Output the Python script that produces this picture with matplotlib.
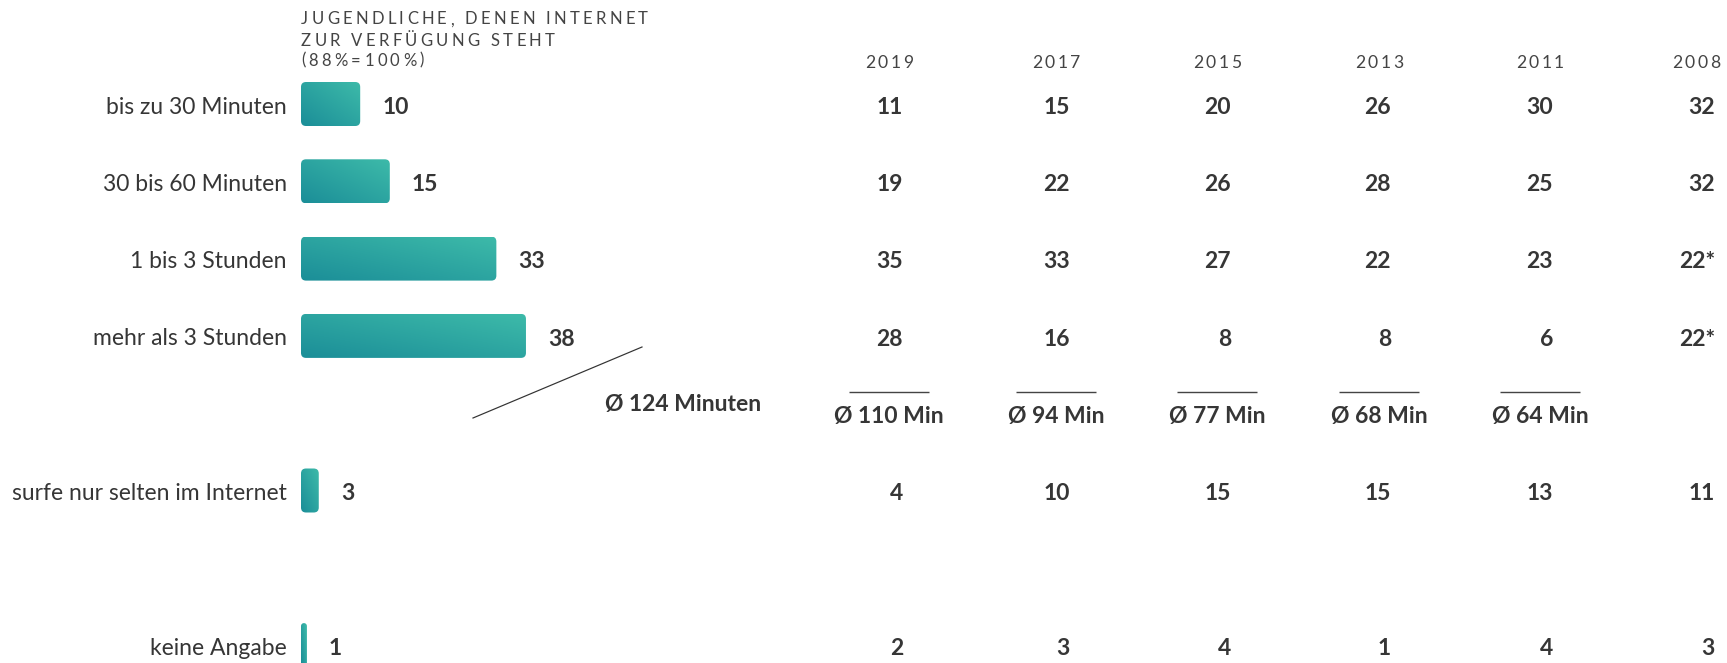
import numpy as np
import matplotlib
matplotlib.use("Agg")
import matplotlib.pyplot as plt
from matplotlib.patches import FancyBboxPatch
from matplotlib.transforms import blended_transform_factory
from matplotlib.colors import to_rgb

# ---------------------------------------------------------------- data
categories = ["bis zu 30 Minuten", "30 bis 60 Minuten", "1 bis 3 Stunden",
              "mehr als 3 Stunden", "surfe nur selten im Internet", "keine Angabe"]
current_share = [10, 15, 33, 38, 3, 1]
current_avg_label = "Ø 124 Minuten"

years = ["2019", "2017", "2015", "2013", "2011", "2008"]
share_2019 = ["11", "19", "35", "28", "4", "2"]
share_2017 = ["15", "22", "33", "16", "10", "3"]
share_2015 = ["20", "26", "27", "8", "15", "4"]
share_2013 = ["26", "28", "22", "8", "15", "1"]
share_2011 = ["30", "25", "23", "6", "13", "4"]
share_2008 = ["32", "32", "22*", "22*", "11", "3"]
avg_minutes = [110, 94, 77, 68, 64, None]

header_lines = ["JUGENDLICHE, DENEN INTERNET", "ZUR VERFÜGUNG STEHT", "(88%=100%)"]

# ---------------------------------------------------------------- layout
W, H, DPI = 1727, 663, 100
ROW_SLOTS = [0, 1, 2, 3, 5, 7]          # vertical slot of each category
ROW0, ROW_STEP = 104.0, 77.3            # px
BAR_LEFT, PX_PER_UNIT = 301.0, 5.92     # px
BAR_H_PX = 44.0
COL_RIGHT = [903, 1070, 1231, 1391, 1553, 1715]
COL_CENTER = [889, 1056, 1217, 1379, 1540, 1696]

TEXT = "#363636"
DARK = np.array(to_rgb("#1b8e98"))
LIGHT = np.array(to_rgb("#3dbaa9"))
FONT = "Lato"
LABEL_SIZE = 16.5
VALUE_SIZE = 16.5

def pt(px):
    return px * 72.0 / DPI

fig = plt.figure(figsize=(W / DPI, H / DPI), dpi=DPI)
fig.patch.set_facecolor("white")

# overlay axis in pixel units for free text
ax_txt = fig.add_axes([0, 0, 1, 1])
ax_txt.set_xlim(0, W)
ax_txt.set_ylim(H, 0)
ax_txt.set_axis_off()

# bar axis: x in percent, y in row slots
xmax = 60.0
y_top, y_bot = -1.0, 8.0
top_px = ROW0 + y_top * ROW_STEP
bot_px = ROW0 + y_bot * ROW_STEP
ax_bar = fig.add_axes([BAR_LEFT / W, 1 - bot_px / H,
                       xmax * PX_PER_UNIT / W, (bot_px - top_px) / H])
ax_bar.set_xlim(0, xmax)
ax_bar.set_ylim(y_bot, y_top)
ax_bar.set_axis_off()

unit_y_per_px = 1.0 / ROW_STEP
unit_x_per_px = 1.0 / PX_PER_UNIT
bar_h = BAR_H_PX * unit_y_per_px
aspect = unit_y_per_px / unit_x_per_px

# gradient bars with rounded corners
for slot, val in zip(ROW_SLOTS, current_share):
    width_px = val * PX_PER_UNIT
    r_px = min(5.0, width_px / 2.0)
    patch = FancyBboxPatch((0, slot - bar_h / 2), val, bar_h,
                           boxstyle=f"round,pad=0,rounding_size={r_px * unit_x_per_px}",
                           mutation_aspect=aspect, transform=ax_bar.transData,
                           linewidth=0, facecolor="none")
    ax_bar.add_patch(patch)
    ncol = max(2, int(width_px))
    nrow = int(BAR_H_PX)
    u = np.linspace(0, 1, ncol)[None, :]
    v = np.linspace(1, 0, nrow)[:, None]     # 1 at top, 0 at bottom
    t = (u + v) / 2.0
    img = DARK[None, None, :] * (1 - t[..., None]) + LIGHT[None, None, :] * t[..., None]
    im = ax_bar.imshow(img, extent=(0, val, slot + bar_h / 2, slot - bar_h / 2),
                       origin="upper", aspect="auto", interpolation="bilinear")
    im.set_clip_path(patch)

ax_bar.set_xlim(0, xmax)
ax_bar.set_ylim(y_bot, y_top)

# category labels and bar values
for slot, cat, val in zip(ROW_SLOTS, categories, current_share):
    ax_bar.annotate(cat, xy=(0, slot), xycoords="data",
                    xytext=(pt(-14), pt(-9.5)), textcoords="offset points",
                    ha="right", va="baseline", fontsize=LABEL_SIZE, family=FONT,
                    color=TEXT, annotation_clip=False)
    ax_bar.annotate(str(val), xy=(val, slot), xycoords="data",
                    xytext=(pt(22), pt(-9.8)), textcoords="offset points",
                    ha="left", va="baseline", fontsize=VALUE_SIZE, family=FONT,
                    fontweight="bold", color=TEXT, annotation_clip=False)

# earlier survey columns
blend = blended_transform_factory(ax_txt.transData, ax_bar.transData)
columns = [share_2019, share_2017, share_2015, share_2013, share_2011, share_2008]
for xr, col in zip(COL_RIGHT, columns):
    for slot, s in zip(ROW_SLOTS, col):
        ax_bar.annotate(s, xy=(xr, slot), xycoords=blend,
                        xytext=(0, pt(-9.8)), textcoords="offset points",
                        ha="right", va="baseline", fontsize=VALUE_SIZE, family=FONT,
                        fontweight="bold", color=TEXT, annotation_clip=False)

# letter-spaced text helper
renderer = fig.canvas.get_renderer()

def text_width(s, **kw):
    t = ax_txt.text(0, 0, s, **kw)
    w = t.get_window_extent(renderer).width
    t.remove()
    return w

def tracked(x, y, s, tracking, ha="left", **kw):
    wh = text_width("H", **kw)
    offs = [text_width(s[:k] + "H", **kw) - wh for k in range(len(s))]
    total = text_width(s, **kw) + tracking * (len(s) - 1)
    if ha == "center":
        x = x - total / 2.0
    for k, ch in enumerate(s):
        if ch == " ":
            continue
        ax_txt.text(x + offs[k] + k * tracking, y, ch, ha="left", va="baseline", **kw)

head_kw = dict(fontsize=12, family=FONT, color="#444444")
for line, base in zip(header_lines, [24.3, 45.5, 65.5]):
    tracked(301, base, line, 3.3, **head_kw)

year_kw = dict(fontsize=12.6, family=FONT, color="#444444")
for xc, yr in zip(COL_CENTER, years):
    tracked(xc, 68.3, yr, 2.6, ha="center", **year_kw)

# average durations
for xc, m in zip(COL_CENTER, avg_minutes):
    if m is None:
        continue
    ax_txt.plot([xc - 40, xc + 40], [391.5, 391.5], color="#444444", lw=pt(1.4),
                solid_capstyle="butt")
    ax_txt.text(xc, 423, f"Ø {m} Min", ha="center", va="baseline", fontsize=VALUE_SIZE,
                family=FONT, fontweight="bold", color=TEXT)

ax_txt.plot([473, 642], [418, 347], color="#333333", lw=pt(1.2))
ax_txt.text(605, 411, current_avg_label, ha="left", va="baseline", fontsize=VALUE_SIZE,
            family=FONT, fontweight="bold", color=TEXT)

fig.savefig("out.png", dpi=DPI, facecolor="white")
